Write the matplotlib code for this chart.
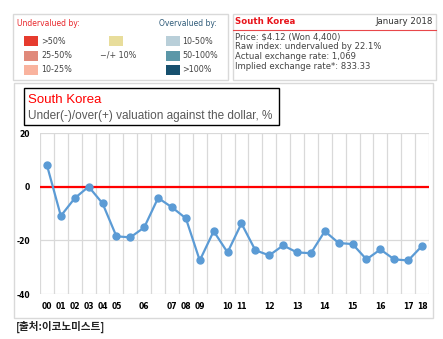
import matplotlib.pyplot as plt
from matplotlib.patches import Rectangle
from matplotlib.lines import Line2D

# --- data ---
years = ['00', '01', '02', '03', '04', '05', '', '06', '', '07', '08', '09', '',
         '10', '11', '', '12', '', '13', '', '14', '', '15', '', '16', '', '17', '18']
valuation = [8.0, -10.9, -4.3, 0.0, -6.2, -18.5, -18.9, -15.2, -4.2, -7.7, -11.8, -27.5,
             -16.6, -24.5, -13.7, -23.7, -25.6, -21.9, -24.5, -24.8, -16.6, -21.0,
             -21.4, -27.1, -23.4, -27.1, -27.5, -22.1]

under_labels = ['>50%', '25-50%', '10-25%']
under_colors = ['#e63b2e', '#e0897a', '#f9b39e']
over_labels = ['10-50%', '50-100%', '>100%']
over_colors = ['#b9cfd9', '#5b97a8', '#17506e']
info_lines = ['Price: $4.12 (Won 4,400)',
              'Raw index: undervalued by 22.1%',
              'Actual exchange rate: 1,069',
              'Implied exchange rate*: 833.33']

W, H = 443, 339
plt.rcParams['font.family'] = ['DejaVu Sans']
plt.rcParams['axes.unicode_minus'] = False
fig = plt.figure(figsize=(W / 100, H / 100), dpi=100)


def fx(x):
    return x / W


def fy(y):
    return 1 - y / H


def box(x0, y0, x1, y1, ec='#d9d9d9', lw=1.0, fc='none'):
    fig.patches.append(Rectangle((fx(x0), fy(y1)), fx(x1) - fx(x0), fy(y0) - fy(y1),
                                 transform=fig.transFigure, fill=(fc != 'none'),
                                 facecolor=fc, edgecolor=ec, lw=lw))


def txt(x, y, s, **kw):
    fig.text(fx(x), fy(y), s, va='center', **kw)


# --- legend box (top left) ---
box(13, 14, 228, 80)
txt(17, 23, 'Undervalued by:', color='#e8262b', fontsize=5.5)
txt(159, 23, 'Overvalued by:', color='#2e5a78', fontsize=5.5)
for i, (lab, col) in enumerate(zip(under_labels, under_colors)):
    yc = 41 + i * 14.5
    box(24, yc - 5, 38, yc + 5, ec='none', fc=col)
    txt(41, yc, lab, color='#444444', fontsize=5.8)
box(109, 36, 123, 46, ec='none', fc='#e8dd9b')
txt(100, 55, '\u2212/+ 10%', color='#444444', fontsize=5.8)
for i, (lab, col) in enumerate(zip(over_labels, over_colors)):
    yc = 41 + i * 14.5
    box(166, yc - 5, 180, yc + 5, ec='none', fc=col)
    txt(182, yc, lab, color='#444444', fontsize=5.8)

# --- info box (top right) ---
box(233, 14, 436, 80)
fig.lines.append(Line2D([fx(233), fx(436)], [fy(29.5), fy(29.5)],
                        transform=fig.transFigure, color='#e8474a', lw=0.8))
txt(235, 22, 'South Korea', color='#e8141b', fontsize=6.2, fontweight='bold')
txt(433, 22, 'January 2018', color='#333333', fontsize=6.2, ha='right')
for i, s in enumerate(info_lines):
    txt(235, 37 + i * 9.8, s, color='#444444', fontsize=6.1)

# --- chart frame ---
box(14, 83, 433, 318)
box(24, 88, 279, 125, ec='black', lw=1.0)
txt(28, 100, 'South Korea', color='#ff0000', fontsize=9.5, family='Liberation Sans')
txt(28, 116, 'Under(-)/over(+) valuation against the dollar, %', color='#595959',
    fontsize=8.5, family='Liberation Sans')

ax = fig.add_axes([fx(40), fy(294), fx(429) - fx(40), fy(133) - fy(294)])
x = list(range(len(valuation)))
ax.set_xlim(-0.5, len(valuation) - 0.5)
ax.set_ylim(-40, 20)
ax.set_yticks([-40, -20, 0, 20])
ax.set_xticks(x)
ax.set_xticklabels(years)
ax.set_xticks([k - 0.5 for k in range(len(valuation) + 1)], minor=True)
ax.grid(True, which='minor', axis='x', color='#d9d9d9', lw=0.9)
ax.grid(True, which='major', axis='y', color='#d9d9d9', lw=0.9)
ax.tick_params(which='both', length=0)
ax.tick_params(axis='x', pad=6)
ax.tick_params(axis='y', pad=7)
for lab in ax.get_xticklabels() + ax.get_yticklabels():
    lab.set_fontsize(5.5)
    lab.set_fontweight('bold')
for s in ax.spines.values():
    s.set_visible(False)
ax.set_axisbelow(True)

ax.axhline(0, color='#ff0000', lw=1.6, zorder=2)
ax.plot(x, valuation, color='#5b9bd5', lw=1.6, marker='o', markersize=5, zorder=3)

txt(16, 327, '[출처:이코노미스트]', color='#222222', fontsize=7.6, fontweight='bold',
    family=['Noto Sans CJK KR', 'DejaVu Sans'])

fig.savefig('out.png', dpi=100)
